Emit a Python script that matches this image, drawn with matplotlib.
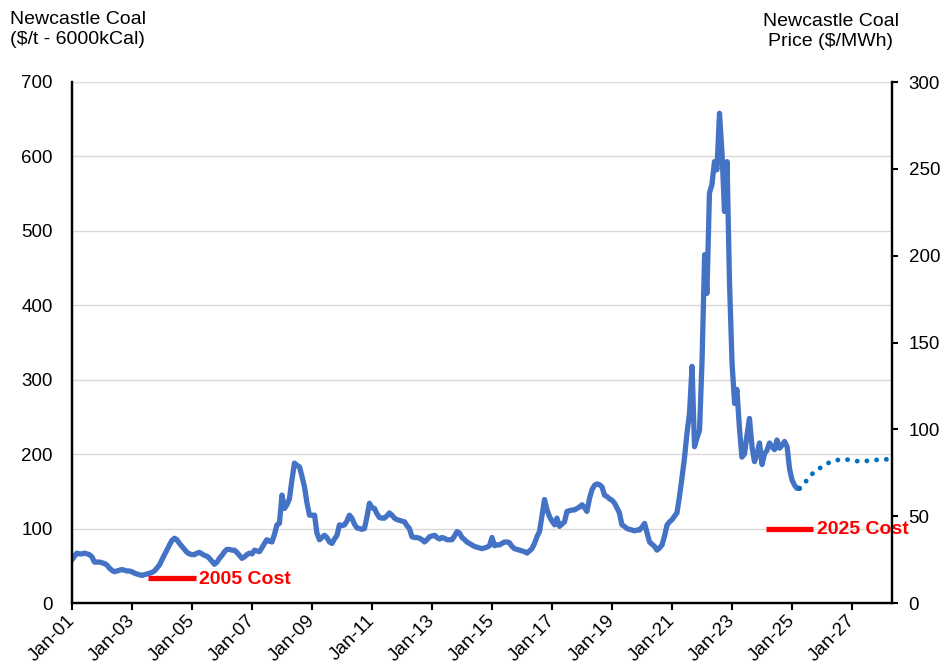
import matplotlib
matplotlib.use("Agg")
import matplotlib.pyplot as plt
import matplotlib.dates as mdates
import pandas as pd

plt.rcParams['font.family'] = ['Liberation Sans', 'DejaVu Sans']

# Monthly Newcastle coal price, $/t (6000 kCal), Jan 2001 - Apr 2025
coal_price = [
    58, 63, 67, 66, 66, 67, 66, 65, 62, 55, 55, 55,          # 2001
    54, 53, 51, 47, 44, 42, 43, 44, 45, 44, 43, 43,          # 2002
    42, 40, 39, 38, 37, 38, 39, 40, 41, 43, 47, 51,          # 2003
    58, 65, 71, 78, 84, 87, 85, 80, 76, 72, 68, 66,          # 2004
    65, 65, 67, 68, 66, 64, 63, 60, 56, 52, 55, 60,          # 2005
    64, 69, 72, 72, 71, 71, 68, 64, 60, 62, 65, 67,          # 2006
    66, 71, 70, 69, 74, 80, 85, 83, 82, 92, 105, 107,        # 2007
    145, 127, 132, 140, 165, 188, 185, 183, 170, 156, 134, 118,  # 2008
    118, 118, 94, 85, 88, 91, 88, 82, 80, 86, 91, 105,       # 2009
    104, 105, 110, 118, 114, 106, 101, 100, 99, 100, 116, 134,   # 2010
    128, 127, 120, 115, 114, 114, 117, 121, 118, 114, 112, 111,  # 2011
    110, 109, 104, 100, 89, 88, 88, 87, 85, 82, 85, 89,      # 2012
    90, 91, 88, 86, 88, 87, 85, 85, 85, 90, 96, 94,          # 2013
    88, 85, 82, 80, 78, 76, 75, 74, 73, 74, 75, 77,          # 2014
    88, 77, 78, 78, 80, 82, 82, 81, 76, 73, 72, 71,          # 2015
    70, 69, 67, 70, 73, 80, 89, 96, 118, 139, 125, 116,      # 2016
    110, 105, 114, 103, 106, 109, 123, 124, 125, 125, 127, 129,  # 2017
    132, 128, 123, 140, 152, 158, 160, 159, 156, 145, 143, 140,  # 2018
    138, 134, 128, 121, 105, 103, 100, 99, 98, 97, 98, 98,   # 2019
    102, 107, 95, 82, 79, 76, 71, 74, 78, 90, 105, 109,      # 2020
    112, 117, 121, 143, 168, 195, 228, 255, 318, 210, 222, 232,  # 2021
    327, 468, 416, 551, 562, 593, 582, 658, 604, 526, 593, 430,  # 2022
    322, 268, 287, 235, 196, 200, 225, 248, 210, 190, 200, 215,  # 2023
    186, 201, 205, 215, 210, 206, 219, 208, 212, 217, 210, 180,  # 2024
    165, 158, 154, 154,                                      # 2025
]
price_dates = pd.date_range('2001-01-01', periods=len(coal_price), freq='MS')

# Forward curve (quarterly), $/t
fwd_dates = pd.to_datetime(['2025-04-01', '2025-07-01', '2025-10-01', '2026-01-01',
                            '2026-04-01', '2026-07-01', '2026-10-01', '2027-01-01',
                            '2027-04-01', '2027-07-01', '2027-10-01', '2028-01-01',
                            '2028-04-01'])
fwd_price = [154, 165, 177, 183, 189, 192, 193, 192, 190, 191, 192, 193, 193]

# Generation cost markers, $/t
cost_labels = ['2005 Cost', '2025 Cost']
cost_values = [33, 100]
cost_start = pd.to_datetime(['2003-07-15', '2024-02-15'])
cost_end = pd.to_datetime(['2005-02-15', '2025-09-15'])

tick_dates = pd.date_range('2001-01-01', '2027-01-01', freq='24MS')

fig = plt.figure(figsize=(9.45, 6.67), dpi=100)
ax = fig.add_axes([72 / 945, 1 - 603 / 667, 820 / 945, 521 / 667])
ax2 = ax.twinx()

ax.plot(price_dates, coal_price, color='#4472C4', lw=3.8,
        solid_joinstyle='round', solid_capstyle='round', zorder=3)
ax.plot(fwd_dates, fwd_price, color='#0070C0', lw=3.5,
        linestyle=(0, (0.01, 2.0)), dash_capstyle='round', zorder=3)

for lab, val, x0, x1 in zip(cost_labels, cost_values, cost_start, cost_end):
    ax.plot([x0, x1], [val, val], color='red', lw=3.8, solid_capstyle='butt', zorder=4)
    ax.annotate(lab, xy=(x1, val), xytext=(2.5, -1), textcoords='offset points',
                ha='left', va='center', color='red', fontsize=14,
                fontweight='bold', zorder=6, annotation_clip=False)

# axes, grid, ticks
ax.set_xlim(pd.Timestamp('2001-01-01'), pd.Timestamp('2028-05-01'))
ax.set_ylim(0, 700)
ax.set_yticks(range(0, 701, 100))
ax2.set_ylim(0, 300)
ax2.set_yticks(range(0, 301, 50))

ax.grid(axis='y', color='#d9d9d9', lw=1)
ax.set_axisbelow(True)

ax.set_xticks(tick_dates)
ax.xaxis.set_major_formatter(mdates.DateFormatter('%b-%y'))
ax.tick_params(axis='x', length=5, width=1.5, pad=6, labelsize=13.5)
ax.tick_params(axis='y', length=0, pad=14, labelsize=13.5)
ax2.tick_params(axis='y', length=4, width=1.5, pad=8, labelsize=13.5)
for lbl in ax.get_xticklabels():
    lbl.set(rotation=45, ha='right', va='center', rotation_mode='anchor')

for a in (ax, ax2):
    a.spines['top'].set_visible(False)
    for s in ('left', 'bottom', 'right'):
        a.spines[s].set_linewidth(1.6)
        a.spines[s].set_color('black')

fig.text(10 / 945, 1 - 11 / 667, 'Newcastle Coal\n($/t - 6000kCal)',
         ha='left', va='top', fontsize=14)
fig.text(831 / 945, 1 - 13 / 667, 'Newcastle Coal\nPrice ($/MWh)',
         ha='center', va='top', fontsize=14, multialignment='center')

fig.savefig('out.png', dpi=100)
